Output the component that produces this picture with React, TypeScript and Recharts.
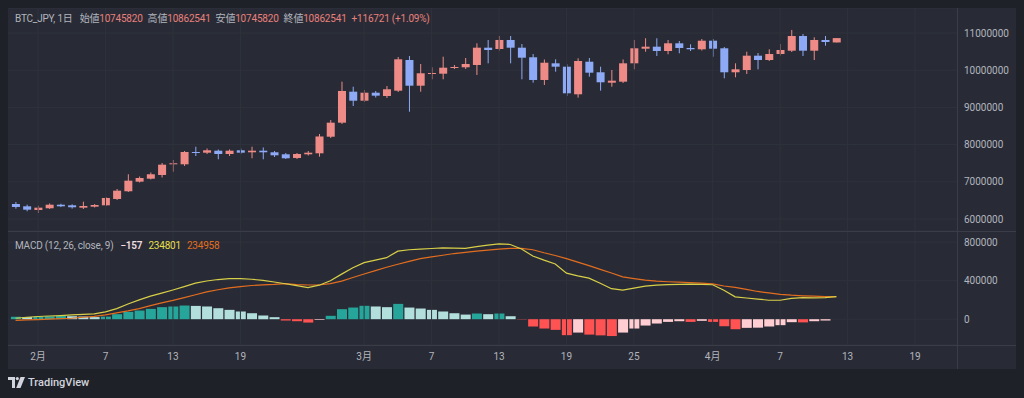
import React from 'react';
import { ComposedChart, Bar, Line, XAxis, YAxis, CartesianGrid, ReferenceLine, Cell } from 'recharts';

// BTC_JPY daily, 2024/01/30 - 2024/04/12 (index 0 = 1/30)
const opens = [
  6403000, 6341000, 6242000, 6288000, 6384000, 6368000, 6304000, 6331000, 6368000, 6538000,
  6745000, 7003000, 7083000, 7183000, 7470000, 7470000, 7801000, 7782000, 7836000, 7747000,
  7847000, 7793000, 7836000, 7793000, 7739000, 7640000, 7739000, 7766000, 8212000, 8589000,
  9422000, 9180000, 9395000, 9306000, 9449000, 10274000, 9583000, 9905000, 9906000, 10067000,
  10078000, 10140000, 10605000, 10570000, 10812000, 10605000, 10347000, 9737000, 10185000, 10094000,
  9352000, 10228000, 9944000, 9664000, 9691000, 10185000, 10578000, 10632000, 10516000, 10723000,
  10597000, 10562000, 10793000, 10589000, 9944000, 10005000, 10390000, 10274000, 10435000, 10524000,
  10919000, 10524000, 10812000, 10745820,
];
const highs = [
  6457000, 6384000, 6358000, 6417000, 6410000, 6395000, 6465000, 6400000, 6591000, 6806000,
  7202000, 7142000, 7250000, 7505000, 7586000, 7828000, 7943000, 7895000, 7868000, 7870000,
  7895000, 7943000, 7922000, 7828000, 7774000, 7774000, 7828000, 8285000, 8661000, 9691000,
  9556000, 9468000, 9441000, 9575000, 10355000, 10381000, 10167000, 10078000, 10363000, 10140000,
  10328000, 10723000, 10812000, 10919000, 10919000, 10704000, 10435000, 10288000, 10293000, 10159000,
  10320000, 10328000, 10094000, 10005000, 10288000, 10812000, 10858000, 10858000, 10812000, 10785000,
  10696000, 10839000, 10839000, 10624000, 10185000, 10497000, 10462000, 10562000, 10704000, 11081000,
  10973000, 10884000, 10919000, 10862541,
];
const lows = [
  6277000, 6207000, 6161000, 6269000, 6320000, 6280000, 6269000, 6310000, 6350000, 6511000,
  6726000, 6981000, 7062000, 7116000, 7271000, 7425000, 7693000, 7747000, 7605000, 7693000,
  7747000, 7632000, 7605000, 7667000, 7613000, 7613000, 7707000, 7675000, 8177000, 8554000,
  9038000, 9145000, 9266000, 9253000, 9414000, 8884000, 9422000, 9755000, 9755000, 10032000,
  10032000, 9871000, 10185000, 10524000, 10185000, 9755000, 9664000, 9602000, 9960000, 9306000,
  9261000, 9825000, 9449000, 9556000, 9656000, 10024000, 10497000, 10382000, 10427000, 10454000,
  10516000, 10529000, 10363000, 9782000, 9809000, 9898000, 10024000, 10247000, 10395000, 10489000,
  10382000, 10274000, 10659000, 10745820,
];
const closes = [
  6323000, 6250000, 6304000, 6384000, 6341000, 6315000, 6349000, 6376000, 6565000, 6761000,
  7030000, 7102000, 7202000, 7460000, 7497000, 7801000, 7782000, 7847000, 7747000, 7836000,
  7782000, 7836000, 7793000, 7712000, 7632000, 7747000, 7782000, 8218000, 8589000, 9441000,
  9180000, 9395000, 9315000, 9487000, 10293000, 9583000, 9917000, 9925000, 10067000, 10086000,
  10167000, 10605000, 10543000, 10812000, 10605000, 10336000, 9737000, 10201000, 10094000, 9379000,
  10247000, 9933000, 9675000, 9718000, 10185000, 10589000, 10632000, 10516000, 10723000, 10597000,
  10562000, 10793000, 10578000, 9944000, 10024000, 10390000, 10274000, 10435000, 10543000, 10919000,
  10524000, 10812000, 10758000, 10862541,
];

// MACD (12, 26, close, 9)
const macdLine = [
  10000, 20000, 28000, 33000, 38000, 44000, 50000, 56000, 76000, 110000,
  158000, 200000, 239000, 270000, 303000, 338000, 374000, 397000, 412000, 421000,
  421000, 415000, 403000, 386000, 368000, 349000, 329000, 353000, 400000, 468000,
  535000, 587000, 613000, 639000, 707000, 721000, 727000, 734000, 740000, 738000,
  735000, 753000, 769000, 782000, 776000, 729000, 657000, 613000, 574000, 478000,
  450000, 426000, 374000, 317000, 301000, 322000, 343000, 353000, 359000, 362000,
  364000, 362000, 358000, 301000, 232000, 220000, 209000, 197000, 197000, 216000,
  223000, 222000, 225000, 234801,
];
const signalLine = [
  -12000, -8000, -4000, 1000, 6000, 10000, 20000, 30000, 45000, 66000,
  86000, 110000, 141000, 169000, 195000, 224000, 254000, 283000, 306000, 325000,
  339000, 350000, 357000, 362000, 370000, 359000, 355000, 355000, 369000, 396000,
  433000, 469000, 505000, 540000, 571000, 600000, 629000, 647000, 664000, 682000,
  695000, 706000, 717000, 728000, 736000, 736000, 721000, 690000, 662000, 629000,
  593000, 556000, 518000, 480000, 440000, 422000, 405000, 395000, 389000, 384000,
  379000, 374000, 366000, 345000, 330000, 309000, 288000, 273000, 258000, 249000,
  243000, 239000, 235000, 234958,
];
const histogram = [
  25000, 22000, 26000, 30000, 33000, 31000, 28000, 22000, 27000, 52000,
  76000, 90000, 107000, 125000, 132000, 142000, 138000, 132000, 114000, 97000,
  80000, 62000, 38000, 21000, -14000, -21000, -35000, -7000, 35000, 104000,
  121000, 139000, 132000, 125000, 159000, 121000, 111000, 97000, 80000, 62000,
  48000, 59000, 52000, 59000, 31000, -3000, -76000, -97000, -111000, -166000,
  -139000, -160000, -168000, -175000, -139000, -97000, -66000, -45000, -28000, -21000,
  -28000, -17000, -28000, -73000, -104000, -90000, -88000, -76000, -62000, -31000,
  -33000, -21000, -14000, -157,
];

const tickDays = [2, 8, 14, 20, 31, 37, 43, 49, 55, 62, 68, 74, 80];
const tickLabels = ['2月', '7', '13', '19', '3月', '7', '13', '19', '25', '4月', '7', '13', '19'];
const priceTicks = [6000000, 7000000, 8000000, 9000000, 10000000, 11000000];
const macdTicks = [0, 400000, 800000];

const UP = '#ef8b87';
const DOWN = '#8eaaf6';
const TEXT = '#b2b5be';
const GRID = '#2f323c';
const SEP = '#3a3d48';
const MACD_C = '#d8cf48';
const SIGNAL_C = '#e36d1f';

const X_DOMAIN: [number, number] = [-0.67, 83.73];

const data = opens.map((open, i) => ({
  d: i,
  open,
  high: highs[i],
  low: lows[i],
  close: closes[i],
  macd: macdLine[i],
  signal: signalLine[i],
  hist: histogram[i],
}));

const histColor = (i: number) => {
  const v = histogram[i];
  const prev = i > 0 ? histogram[i - 1] : 0;
  if (v >= 0) return v > prev ? '#26a69a' : '#b2dfdb';
  return v < prev ? '#ff5252' : '#ffcdd2';
};

const Candle = (props: any) => {
  const { x, y, width, height, payload } = props;
  const { open, close, high, low } = payload;
  const color = close >= open ? UP : DOWN;
  const span = high - low || 1;
  const toY = (v: number) => y + ((high - v) / span) * height;
  const cx = x + width / 2;
  const top = toY(Math.max(open, close));
  const bot = toY(Math.min(open, close));
  return (
    <g>
      <line x1={cx} x2={cx} y1={y} y2={y + height} stroke={color} strokeWidth={1} />
      <rect x={x} y={top} width={width} height={Math.max(1, bot - top)} fill={color} />
    </g>
  );
};

const last = data[data.length - 1];
const change = last.close - last.open;
const changePct = ((change / last.open) * 100).toFixed(2);
const fmtSigned = (v: number) => (v < 0 ? `\u2212${Math.abs(v)}` : `${v}`);

export default function App() {
  const font = "Roboto, 'Noto Sans CJK JP', sans-serif";
  const tick = { fill: TEXT, fontSize: 10 };
  const val = { color: '#e8807c' };
  const grp = { marginLeft: 5 };

  return (
    <div style={{ position: 'absolute', left: 0, top: 0, width: 1024, height: 398, background: '#1f2129', fontFamily: font, overflow: 'hidden' }}>
      <div style={{ position: 'absolute', left: 8, top: 8, width: 1008, height: 361, background: '#282b35' }}>
        {/* price pane */}
        <div style={{ position: 'absolute', left: 0, top: 0 }}>
          <ComposedChart width={1008} height={223} data={data} margin={{ top: 0, right: 0, left: 0, bottom: 0 }}>
            <CartesianGrid vertical={false} stroke={GRID} />
            <XAxis type="number" dataKey="d" domain={X_DOMAIN} allowDataOverflow hide />
            <YAxis
              orientation="right"
              width={59}
              domain={[5677000, 11672000]}
              allowDataOverflow
              ticks={priceTicks}
              tick={tick}
              tickLine={false}
              axisLine={false}
              tickMargin={1}
              tickFormatter={(v: number) => `${v}`}
            />
            {tickDays.map((t) => (
              <ReferenceLine key={t} x={t} stroke={GRID} />
            ))}
            <Bar
              dataKey={(e: any) => [e.low, e.high]}
              barSize={8}
              shape={Candle}
              isAnimationActive={false}
            />
          </ComposedChart>
        </div>

        {/* MACD pane + time axis */}
        <div style={{ position: 'absolute', left: 0, top: 223 }}>
          <ComposedChart width={1008} height={138} data={data} margin={{ top: 0, right: 0, left: 0, bottom: 0 }}>
            <CartesianGrid vertical={false} stroke={GRID} />
            <XAxis
              type="number"
              dataKey="d"
              domain={X_DOMAIN}
              allowDataOverflow
              ticks={tickDays}
              interval={0}
              height={24}
              tick={tick}
              tickLine={false}
              axisLine={false}
              tickMargin={2}
              tickFormatter={(v: number) => tickLabels[tickDays.indexOf(v)] ?? ''}
            />
            <YAxis
              orientation="right"
              width={59}
              domain={[-268000, 916000]}
              allowDataOverflow
              ticks={macdTicks}
              tick={tick}
              tickLine={false}
              axisLine={false}
              tickMargin={1}
              tickFormatter={(v: number) => `${v}`}
            />
            {tickDays.map((t) => (
              <ReferenceLine key={t} x={t} stroke={GRID} />
            ))}
            <Bar dataKey="hist" barSize={10} isAnimationActive={false}>
              {data.map((_, i) => (
                <Cell key={i} fill={histColor(i)} />
              ))}
            </Bar>
            <Line type="linear" dataKey="signal" stroke={SIGNAL_C} strokeWidth={1.2} dot={false} isAnimationActive={false} />
            <Line type="linear" dataKey="macd" stroke={MACD_C} strokeWidth={1.2} dot={false} isAnimationActive={false} />
          </ComposedChart>
        </div>

        {/* separators */}
        <div style={{ position: 'absolute', left: 0, top: 223, width: 1008, height: 1, background: SEP }} />
        <div style={{ position: 'absolute', left: 0, top: 337, width: 1008, height: 1, background: SEP }} />
        <div style={{ position: 'absolute', left: 949, top: 0, width: 1, height: 361, background: SEP }} />

        {/* legends */}
        <div style={{ position: 'absolute', left: 7, top: 5, fontSize: 10, letterSpacing: -0.2, lineHeight: '12px', color: TEXT, whiteSpace: 'nowrap' }}>
          <span>BTC_JPY, 1日</span>
          <span style={{ marginLeft: 7 }}>始値</span><span style={val}>{last.open}</span>
          <span style={grp}>高値</span><span style={val}>{last.high}</span>
          <span style={grp}>安値</span><span style={val}>{last.low}</span>
          <span style={grp}>終値</span><span style={val}>{last.close}</span>
          <span style={{ ...grp, ...val }}>{`${change >= 0 ? '+' : ''}${change} (${change >= 0 ? '+' : ''}${changePct}%)`}</span>
        </div>
        <div style={{ position: 'absolute', left: 7, top: 232, fontSize: 10, letterSpacing: -0.2, lineHeight: '12px', color: TEXT, whiteSpace: 'nowrap' }}>
          <span>MACD (12, 26, close, 9)</span>
          <span style={{ marginLeft: 7, color: '#f2dde0', fontWeight: 600 }}>{fmtSigned(last.hist)}</span>
          <span style={{ marginLeft: 6, color: '#e6df4e' }}>{last.macd}</span>
          <span style={{ marginLeft: 6, color: SIGNAL_C }}>{last.signal}</span>
        </div>
      </div>

      {/* footer logo */}
      <div style={{ position: 'absolute', left: 8, top: 376, display: 'flex', alignItems: 'center', color: '#d1d4dc', fontSize: 11, fontWeight: 500 }}>
        <svg width={17} height={11} viewBox="0 0 17 11">
          <path d="M0 0h7v11H4V3H0z" fill="#d1d4dc" />
          <circle cx={9.3} cy={1.6} r={1.6} fill="#d1d4dc" />
          <path d="M12.5 0H17l-4.5 11H8.2z" fill="#d1d4dc" />
        </svg>
        <span style={{ marginLeft: 3 }}>TradingView</span>
      </div>
    </div>
  );
}
